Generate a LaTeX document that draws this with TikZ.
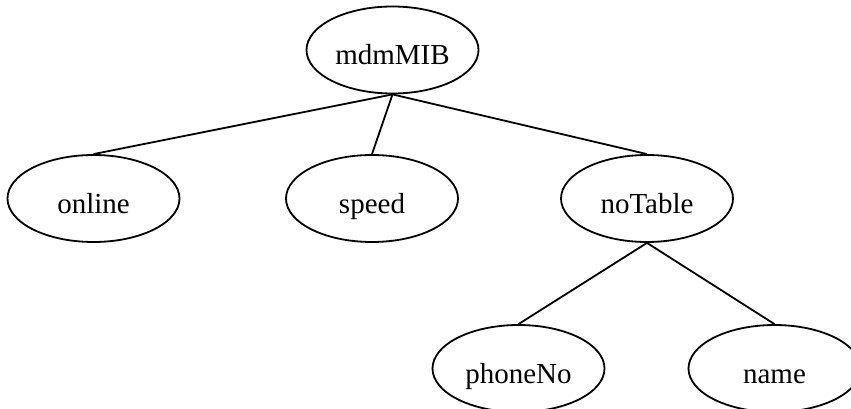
\documentclass[tikz,border=0pt]{standalone}
\usepackage{fontspec}
\setmainfont{Liberation Serif}
\usetikzlibrary{shapes.geometric}
\tikzset{
  leaf/.style={draw, ellipse, line width=1.8pt, inner sep=0pt,
    minimum width=172pt, minimum height=87pt,
    text height=30pt, text depth=0pt,
    font=\fontsize{29}{34}\selectfont},
  edge/.style={line width=1.8pt}
}
\begin{document}
\begin{tikzpicture}[x=1pt,y=-1pt]
\useasboundingbox (0,0) rectangle (851,409);
\node[leaf] (mdm) at (392.5,50) {mdmMIB};
\node[leaf] (online) at (93.5,198.5) {online};
\node[leaf] (speed) at (372,198.5) {speed};
\node[leaf] (notable) at (647,198.5) {noTable};
\node[leaf] (phone) at (518.5,368.5) {phoneNo};
\node[leaf] (name) at (774.5,368.5) {name};
\draw[edge] (mdm.south) -- (online.north);
\draw[edge] (mdm.south) -- (speed.north);
\draw[edge] (mdm.south) -- (notable.north);
\draw[edge] (notable.south) -- (phone.north);
\draw[edge] (notable.south) -- (name.north);
\end{tikzpicture}
\end{document}
